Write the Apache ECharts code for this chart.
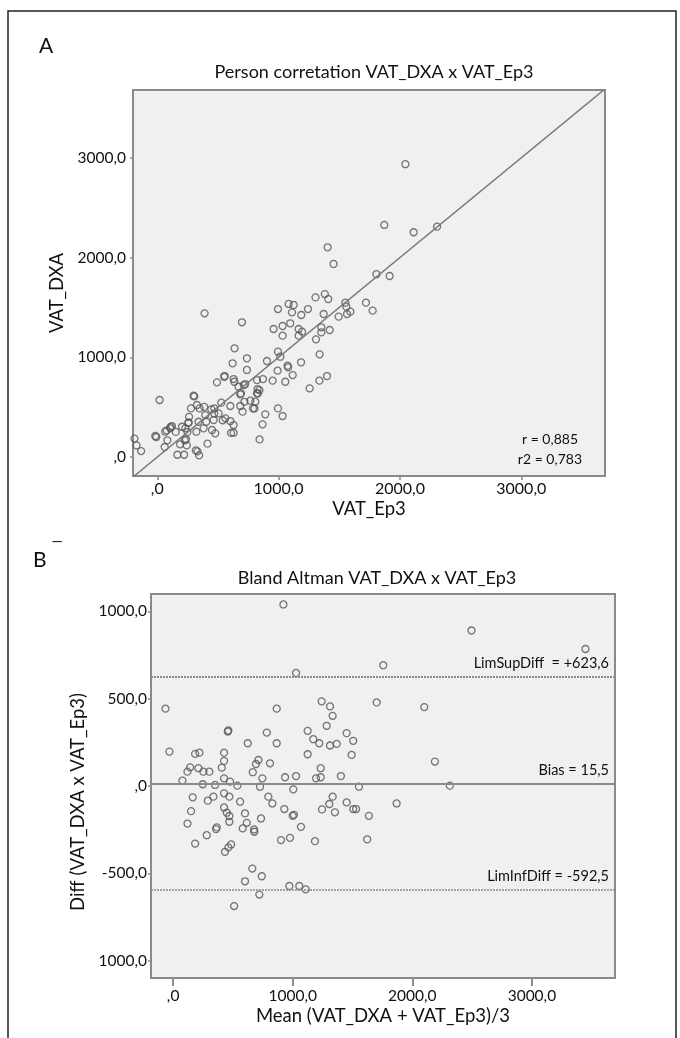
<!DOCTYPE html>
<html>
<head>
<meta charset="utf-8">
<script src="https://cdn.jsdelivr.net/npm/echarts@6/dist/echarts.min.js"></script>
<style>
  html, body { margin: 0; padding: 0; background: #fff; }
  #main { width: 680px; height: 1038px; }
</style>
</head>
<body>
<div id="main"></div>
<script>
// Painel A: VAT_Ep3 (x) vs VAT_DXA (y)
var pontosA = [
  [-188,185], [-171,117], [-133,60], [-8,201], [19,572], [-16,211], [61,101], [66,254], [83,168],
  [107,288], [121,311], [166,23], [188,128], [204,304], [221,23], [231,288], [237,178], [243,117],
  [258,348], [262,403], [278,488], [299,615], [305,608], [318,67], [322,254], [327,522], [331,57],
  [340,354], [345,17], [349,488], [382,288], [387,503], [396,421], [404,354], [414,134], [445,478],
  [451,271], [464,371], [478,238], [492,749], [505,438], [528,545], [555,812], [561,388], [602,361],
  [602,512], [608,242], [621,940], [629,782], [629,321], [629,244], [637,1090], [670,705], [684,629],
  [684,512], [698,1351], [703,455], [718,554], [725,732], [739,990], [739,873], [767,565], [789,488],
  [808,555], [822,772], [827,682], [822,639], [843,177], [868,328], [871,782], [890,428], [904,963],
  [951,766], [959,1284], [992,866], [995,1056], [995,488], [995,1484], [1014,1006], [1033,1314],
  [1033,1217], [1033,411], [1055,755], [1074,916], [1078,900], [1083,1535], [1096,1341], [1110,1451],
  [1116,822], [1124,1525], [1165,1284], [1165,1217], [1185,950], [1187,1424], [1193,1257], [1242,1484],
  [1256,689], [1304,1601], [1308,1180], [1336,766], [1338,1030], [1352,1301], [1352,1250], [1371,1434],
  [1381,1634], [1399,812], [1404,2103], [1409,1584], [1421,1274], [1453,1936], [1495,1408], [1550,1548],
  [1558,1508], [1564,1434], [1591,1458], [1720,1548], [1775,1468], [1806,1833], [1871,2327], [1915,1815],
  [2045,2936], [2113,2254], [2306,2310], [390,1441],
  [110,302], [152,252], [77,268], [257,342], [470,487], [470,436], [539,369], [690,638], [713,722],
  [829,638], [842,671], [801,487], [635,755], [552,805], [226,168], [249,252]
];

// Painel B: média (x) vs diferença (y)
var pontosB = [
  [-64,443], [866,443], [1242,485], [1312,456], [1334,402], [1284,345], [1702,479], [2100,452],
  [457,312], [462,318], [783,306], [624,245], [866,245], [1125,316], [1172,268], [1222,245], [1312,232],
  [1368,241], [1451,303], [1506,259], [1493,178], [1125,182], [-31,197], [184,184], [220,191],
  [426,191], [426,144], [407,105], [142,107], [211,102], [120,82], [253,82], [303,82], [78,31],
  [426,44], [476,25], [248,10], [351,6], [537,2], [713,149], [693,126], [810,130], [666,79],
  [746,44], [727,-4], [936,50], [1028,57], [1195,44], [1234,50], [1234,102], [1403,57], [1554,-4],
  [1005,-19], [2314,2], [2189,140], [1869,-100], [164,-65], [290,-84], [337,-61], [426,-42],
  [470,-61], [560,-90], [426,-123], [449,-153], [470,-172], [470,-205], [150,-144], [120,-215],
  [601,-157], [616,-211], [796,-61], [830,-100], [735,-186], [930,-132], [1000,-171], [1010,-165],
  [1069,-234], [1245,-134], [1306,-103], [1334,-61], [1353,-151], [1451,-94], [1506,-132],
  [1530,-132], [1637,-171], [365,-237], [582,-243], [677,-249], [184,-330], [281,-282], [359,-247],
  [434,-377], [462,-352], [485,-335], [679,-262], [902,-310], [977,-297], [1186,-316], [1623,-306],
  [662,-473], [601,-546], [741,-517], [721,-622], [510,-688], [972,-573], [1055,-573], [1109,-592],
  [922,1040], [1028,648], [2495,891], [3448,785], [1757,692]
];

var ticksA = [0, 1000, 2000, 3000];
var ticksBx = [0, 1000, 2000, 3000];
var ticksBy = [1000, 500, 0, -500, -1000];
var rotulosBy = ['1000,0', '500,0', ',0', '-500,0', '1000,0'];

// linhas de Bland-Altman
var limSup = 623.6;
var bias = 15.5;
var limInf = -592.5;
var textoLimSup = 'LimSupDiff  = +623,6';
var textoBias = 'Bias = 15,5';
var textoLimInf = 'LimInfDiff = -592,5';
var textoR = ['r = 0,885', 'r2 = 0,783'];

var xMinA = -200, xMaxA = 3690, yMinA = -190, yMaxA = 3680;
// reta de referência (y = x) no painel A
var retaA = [[xMinA, xMinA], [xMaxA, xMaxA]];

var fonte = 'Lato, "Open Sans", sans-serif';
var cinza = '#8a8a8a';

function fmt(v) {
  if (v === 0) return ',0';
  return v.toFixed(1).replace('.', ',');
}

var eixoBase = {
  type: 'value',
  splitLine: { show: false },
  axisLine: { show: true, onZero: false, lineStyle: { color: cinza, width: 2 } },
  nameTextStyle: { fontFamily: fonte, fontSize: 18.5, color: '#111' }
};

function eixo(extra) {
  return Object.assign({}, JSON.parse(JSON.stringify(eixoBase)), extra);
}

var myChart = echarts.init(document.getElementById('main'));

var option = {
  backgroundColor: '#fff',
  animation: false,
  title: [
    { text: 'Person corretation VAT_DXA x VAT_Ep3', left: 369, top: 58, textAlign: 'center',
      textStyle: { fontFamily: fonte, fontSize: 18, fontWeight: 'normal', color: '#111' } },
    { text: 'Bland Altman VAT_DXA x VAT_Ep3', left: 372, top: 564, textAlign: 'center',
      textStyle: { fontFamily: fonte, fontSize: 18, fontWeight: 'normal', color: '#111' } }
  ],
  graphic: [
    { type: 'rect', shape: { x: 8, y: 11, width: 668, height: 1040 },
      style: { fill: 'none', stroke: '#222', lineWidth: 1.5 }, silent: true },
    { type: 'text', left: 39, top: 36, style: { text: 'A', font: '21px ' + fonte, fill: '#111' } },
    { type: 'text', left: 33, top: 550, style: { text: 'B', font: '21px ' + fonte, fill: '#111' } },
    { type: 'text', left: 52, top: 541, style: { text: '‾', font: '16px ' + fonte, fill: '#111' } },
    { type: 'text', x: 578, y: 432, style: { text: textoR[0], font: '14px ' + fonte, fill: '#111', align: 'right' } },
    { type: 'text', x: 582, y: 452, style: { text: textoR[1], font: '14px ' + fonte, fill: '#111', align: 'right' } }
  ],
  grid: [
    { left: 133, top: 90, width: 472, height: 386, show: true, backgroundColor: '#f0f0f0',
      borderColor: cinza, borderWidth: 2 },
    { left: 151, top: 594, width: 464, height: 384, show: true, backgroundColor: '#f0f0f0',
      borderColor: cinza, borderWidth: 2 }
  ],
  xAxis: [
    eixo({ gridIndex: 0, min: xMinA, max: xMaxA, name: 'VAT_Ep3', nameLocation: 'middle', nameGap: 24,
      axisLabel: { customValues: ticksA, formatter: fmt, margin: 5, fontFamily: fonte, fontSize: 16, color: '#111' },
      axisTick: { show: true, customValues: ticksA, length: 4, lineStyle: { color: cinza, width: 1.5 } } }),
    eixo({ gridIndex: 1, min: -185, max: 3695, name: 'Mean (VAT_DXA + VAT_Ep3)/3', nameLocation: 'middle', nameGap: 29,
      axisLabel: { customValues: ticksBx, formatter: fmt, margin: 10, fontFamily: fonte, fontSize: 15.5, color: '#111' },
      axisTick: { show: true, customValues: ticksBx, length: 8, lineStyle: { color: cinza, width: 2 } } })
  ],
  yAxis: [
    eixo({ gridIndex: 0, min: yMinA, max: yMaxA, name: 'VAT_DXA', nameLocation: 'middle', nameGap: 36,
      nameTextStyle: { fontFamily: fonte, fontSize: 18.5, color: '#111', padding: [0, 20, 0, 0] },
      axisLabel: { customValues: ticksA, formatter: fmt, margin: 7, fontFamily: fonte, fontSize: 15.5, color: '#111' },
      axisTick: { show: true, customValues: ticksA, length: 3, lineStyle: { color: cinza, width: 1.5 } } }),
    eixo({ gridIndex: 1, min: -1100, max: 1100, name: 'Diff (VAT_DXA x VAT_Ep3)', nameLocation: 'middle', nameGap: 62,
      nameTextStyle: { fontFamily: fonte, fontSize: 18.5, color: '#111', padding: [0, 32, 0, 0] },
      axisLabel: { customValues: ticksBy, margin: 4, fontFamily: fonte, fontSize: 15.5, color: '#111',
        formatter: function (v) { return rotulosBy[ticksBy.indexOf(v)]; } },
      axisTick: { show: true, customValues: ticksBy, length: 3, lineStyle: { color: cinza, width: 1.5 } } })
  ],
  series: [
    {
      type: 'line', xAxisIndex: 0, yAxisIndex: 0, data: retaA, clip: true,
      showSymbol: false, symbol: 'none', silent: true,
      lineStyle: { color: '#777', width: 1.5 }
    },
    {
      type: 'scatter', xAxisIndex: 0, yAxisIndex: 0, data: pontosA,
      symbol: 'circle', symbolSize: 7,
      itemStyle: { color: 'rgba(0,0,0,0)', borderColor: '#555', borderWidth: 1.3 }
    },
    {
      type: 'scatter', xAxisIndex: 1, yAxisIndex: 1, data: pontosB,
      symbol: 'circle', symbolSize: 7,
      itemStyle: { color: 'rgba(0,0,0,0)', borderColor: '#555', borderWidth: 1.3 },
      markLine: {
        silent: true, symbol: 'none', animation: false,
        label: { show: true, position: 'insideEndTop', fontFamily: fonte, fontSize: 14.5, color: '#111' },
        data: [
          { yAxis: limSup, lineStyle: { color: '#8a8a8a', width: 2, type: [2, 1] }, label: { formatter: textoLimSup, distance: [6, 6] } },
          { yAxis: bias, lineStyle: { color: '#8a8a8a', width: 2, type: 'solid' }, label: { formatter: textoBias, distance: [6, 5] } },
          { yAxis: limInf, lineStyle: { color: '#8a8a8a', width: 1.5, type: [2, 1] }, label: { formatter: textoLimInf, distance: [6, 6] } }
        ]
      }
    }
  ]
};

myChart.setOption(option);
</script>
</body>
</html>
